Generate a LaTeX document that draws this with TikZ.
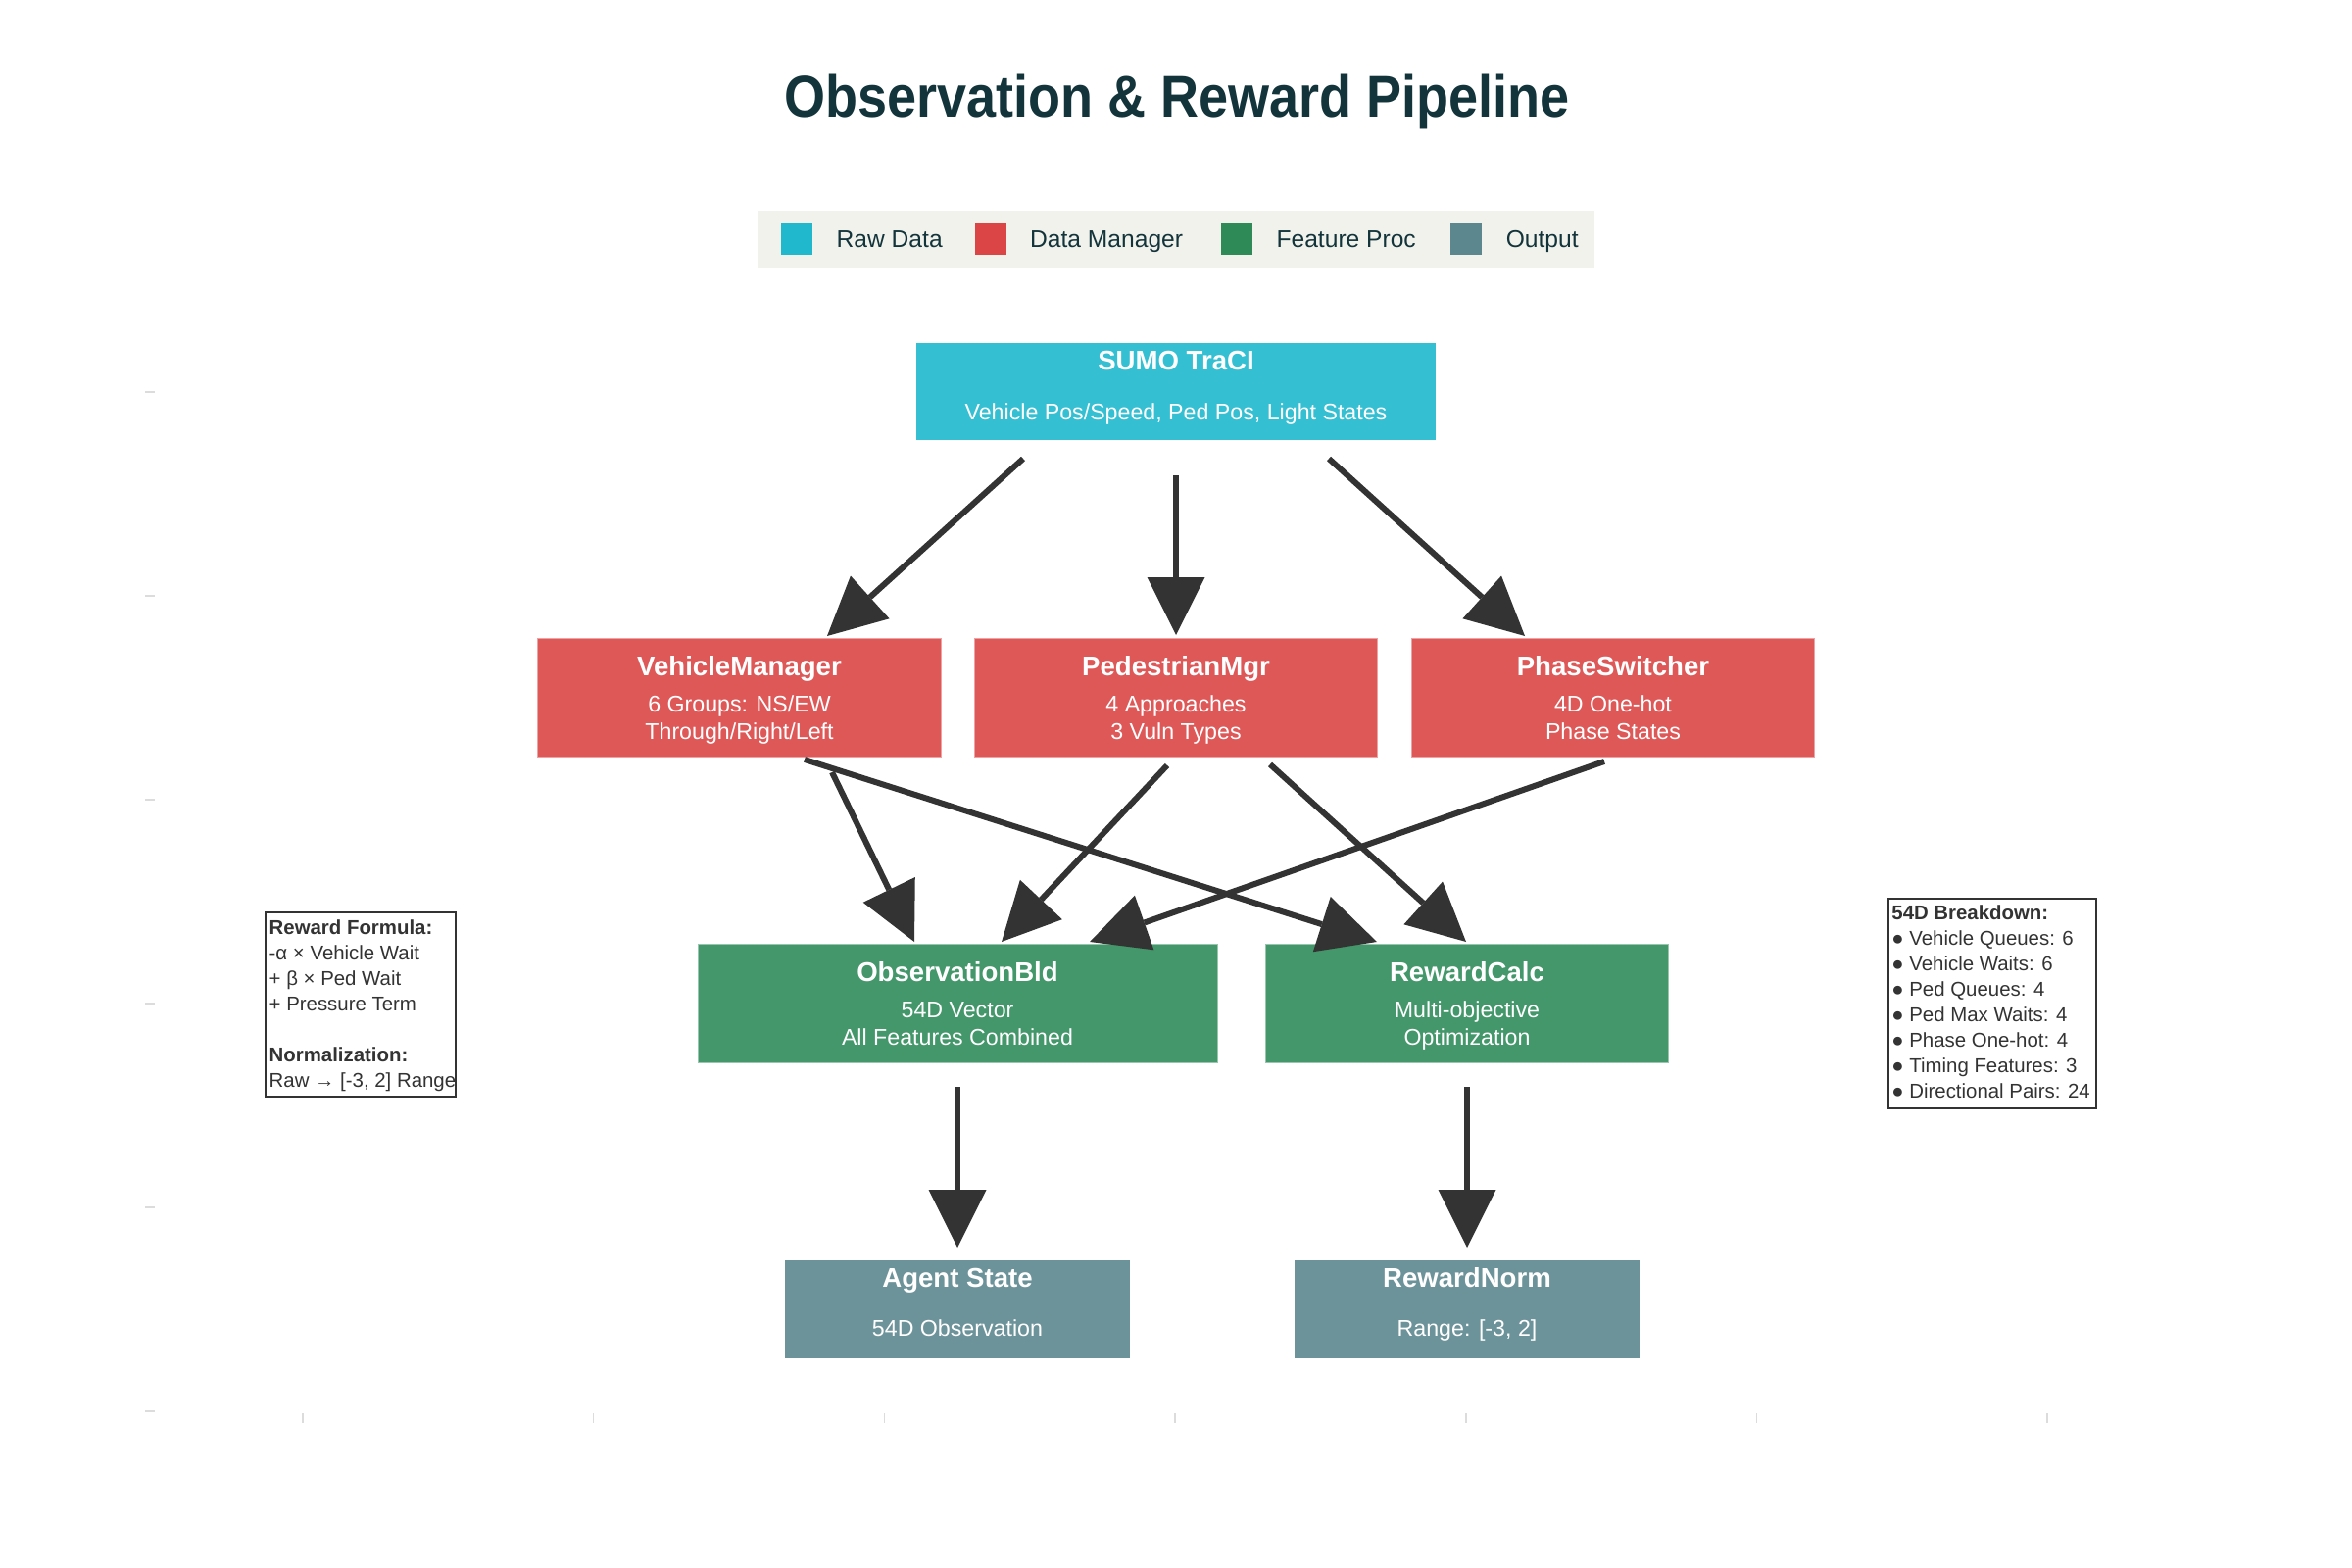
\documentclass[tikz,border=0pt]{standalone}
\usepackage{fontspec}
\setmainfont{Liberation Sans}
\newfontfamily\titlefont{Liberation Sans}[FakeStretch=0.9]
\usetikzlibrary{arrows.meta,calc}
\definecolor{rawc}{HTML}{1FB8CD}
\definecolor{mgrc}{HTML}{DB4545}
\definecolor{featc}{HTML}{2E8B57}
\definecolor{outc}{HTML}{5D878F}
\definecolor{rawf}{HTML}{35BFD2}
\definecolor{mgrf}{HTML}{DF5858}
\definecolor{featf}{HTML}{43976A}
\definecolor{outf}{HTML}{6D939A}
\definecolor{titlec}{HTML}{13343B}
\definecolor{arrowc}{HTML}{333333}
\definecolor{legbg}{HTML}{F2F2EC}
\definecolor{tickc}{HTML}{DCDCDC}
\begin{document}
\begin{tikzpicture}[x=0.5pt,y=-0.5pt,
  box/.style={rectangle, inner sep=0, outer sep=0, line width=0.5pt},
  wbox/.style={box, minimum width=205.75pt, minimum height=60.5pt},
  ttl/.style={anchor=base, inner sep=0, text=white, font={\fontsize{13.8}{16}\selectfont\bfseries}},
  sub/.style={anchor=base, inner sep=0, text=white, font={\fontsize{11.6}{14}\selectfont}},
  legtxt/.style={anchor=base west, inner sep=0, text=titlec, font={\fontsize{12.3}{14}\selectfont}},
  sw/.style={rectangle, inner sep=0, minimum size=16pt},
  side/.style={anchor=base west, inner sep=0, text=arrowc, font={\fontsize{10.2}{13}\selectfont}},
  sidebox/.style={rectangle, draw=arrowc, line width=1pt, inner sep=0, fill=white},
  arr/.style={draw=arrowc, line width=3pt, -{Triangle[length=29.5pt, width=29.5pt, line width=0pt]}},
  tick/.style={draw=tickc, line width=0.8pt}
]
\useasboundingbox (0,0) rectangle (2400,1600);
\fill[white] (0,0) rectangle (2400,1600);

% faint axis ticks
\foreach \k in {-3,...,3} \draw[tick] ({1199+\k*296.7},1442) -- ++(0,10);
\foreach \k in {0,...,5} \draw[tick] (148,{400+\k*208}) -- ++(10,0);

% title
\node[anchor=base, inner sep=0, text=titlec, font={\titlefont\bfseries\fontsize{30}{36}\selectfont}] (title) at (1201,119.3) {Observation \& Reward Pipeline};

% legend
\node[rectangle, fill=legbg, minimum width=427pt, minimum height=29pt, inner sep=0] (legend) at (1200,244) {};
\node[sw, fill=rawc] (swRaw) at (813.2,244) {};
\node[sw, fill=mgrc] (swMgr) at (1010.9,244) {};
\node[sw, fill=featc] (swFeat) at (1262,244) {};
\node[sw, fill=outc] (swOut) at (1496.2,244) {};
\node[legtxt] (lgRaw) at (853.3,252.7) {Raw Data};
\node[legtxt] (lgMgr) at (1050.8,252.7) {Data Manager};
\node[legtxt] (lgFeat) at (1302.2,252.7) {Feature Proc};
\node[legtxt] (lgOut) at (1536.4,252.7) {Output};

% boxes
\node[box, fill=rawf, minimum width=265pt, minimum height=49.5pt] (sumo) at (1200,399.5) {};
\node[wbox, fill=mgrf, draw=mgrf!55!white] (vm) at (754.5,711.5) {};
\node[wbox, fill=mgrf, draw=mgrf!55!white] (ped) at (1200,711.5) {};
\node[wbox, fill=mgrf, draw=mgrf!55!white] (phase) at (1646,711.5) {};
\node[box, fill=featf, draw=featf!55!white, minimum width=265pt, minimum height=60.5pt] (obs) at (977,1023.5) {};
\node[wbox, fill=featf, draw=featf!55!white] (rew) at (1497,1023.5) {};
\node[box, fill=outf, minimum width=176pt, minimum height=50pt] (agent) at (977,1336) {};
\node[box, fill=outf, minimum width=176pt, minimum height=50pt] (norm) at (1497,1336) {};

% box texts
\node[ttl] (sumoT) at ($(sumo.north)+(0,27)$) {SUMO TraCI};
\node[sub] (sumoS) at ($(sumo.north)+(0,78)$) {Vehicle Pos/Speed, Ped Pos, Light States};

\node[ttl] (vmT) at ($(vm.north)+(0,38.5)$) {VehicleManager};
\node[sub] (vmS1) at ($(vm.north)+(0,75)$) {6 Groups: NS/EW};
\node[sub] (vmS2) at ($(vm.north)+(0,103.5)$) {Through/Right/Left};

\node[ttl] (pedT) at ($(ped.north)+(0,38.5)$) {PedestrianMgr};
\node[sub] (pedS1) at ($(ped.north)+(0,75)$) {4 Approaches};
\node[sub] (pedS2) at ($(ped.north)+(0,103.5)$) {3 Vuln Types};

\node[ttl] (phaseT) at ($(phase.north)+(0,38.5)$) {PhaseSwitcher};
\node[sub] (phaseS1) at ($(phase.north)+(0,75)$) {4D One-hot};
\node[sub] (phaseS2) at ($(phase.north)+(0,103.5)$) {Phase States};

\node[ttl] (obsT) at ($(obs.north)+(0,38.5)$) {ObservationBld};
\node[sub] (obsS1) at ($(obs.north)+(0,75)$) {54D Vector};
\node[sub] (obsS2) at ($(obs.north)+(0,103.5)$) {All Features Combined};

\node[ttl] (rewT) at ($(rew.north)+(0,38.5)$) {RewardCalc};
\node[sub] (rewS1) at ($(rew.north)+(0,75)$) {Multi-objective};
\node[sub] (rewS2) at ($(rew.north)+(0,103.5)$) {Optimization};

\node[ttl] (agentT) at ($(agent.north)+(0,27.3)$) {Agent State};
\node[sub] (agentS) at ($(agent.north)+(0,77.3)$) {54D Observation};

\node[ttl] (normT) at ($(norm.north)+(0,27.3)$) {RewardNorm};
\node[sub] (normS) at ($(norm.north)+(0,77.3)$) {Range: [-3, 2]};

% arrows
\draw[arr] ($(sumo.south)+(-156,19)$) -- ($(vm.north)+(89.5,-2)$);
\draw[arr] ($(sumo.south)+(0,36)$) -- ($(ped.north)+(0,-3)$);
\draw[arr] ($(sumo.south)+(156,19)$) -- ($(phase.north)+(-90,-2)$);
\draw[arr] ($(vm.south)+(94.5,16)$) -- ($(obs.north)+(-44,-2)$);
\draw[arr] ($(vm.south)+(66.5,3)$) -- ($(rew.north)+(-92,-2)$);
\draw[arr] ($(ped.south)+(-9,9)$) -- ($(obs.north)+(45,-2)$);
\draw[arr] ($(ped.south)+(96,8)$) -- ($(rew.north)+(-1,-2)$);
\draw[arr] ($(phase.south)+(-9,5)$) -- ($(obs.north)+(135,-2)$);
\draw[arr] ($(obs.south)+(0,25)$) -- ($(agent.north)+(0,-13)$);
\draw[arr] ($(rew.south)+(0,25)$) -- ($(norm.north)+(0,-13)$);

% side boxes
\node[sidebox, minimum width=97pt, minimum height=94pt] (rf) at (368,1025) {};
\foreach \i/\t in {0/{\textbf{Reward Formula:}}, 1/{-α × Vehicle Wait}, 2/{+ β × Ped Wait}, 3/{+ Pressure Term}, 5/{\textbf{Normalization:}}, 6/{Raw → [-3, 2] Range}}
  \node[side] (rf\i) at ($(rf.north west)+(4.3,{23+\i*26})$) {\t};

\node[sidebox, minimum width=106pt, minimum height=107pt] (bd) at (2033,1024) {};
\foreach \i/\t in {0/{\textbf{54D Breakdown:}}, 1/{● Vehicle Queues: 6}, 2/{● Vehicle Waits: 6}, 3/{● Ped Queues: 4}, 4/{● Ped Max Waits: 4}, 5/{● Phase One-hot: 4}, 6/{● Timing Features: 3}, 7/{● Directional Pairs: 24}}
  \node[side] (bd\i) at ($(bd.north west)+(4,{22.3+\i*26})$) {\t};
\end{tikzpicture}
\end{document}
